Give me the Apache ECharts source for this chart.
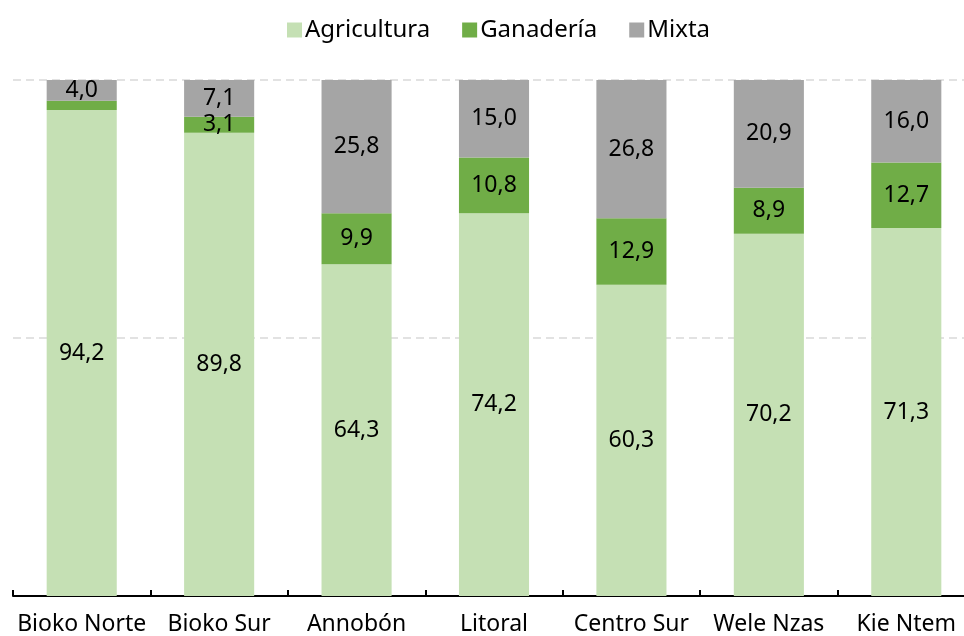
<!DOCTYPE html>
<html>
<head>
<meta charset="utf-8">
<script src="https://cdn.jsdelivr.net/npm/echarts@6/dist/echarts.min.js"></script>
<style>
  html, body { margin: 0; padding: 0; background: #fff; }
  #chart { width: 964px; height: 636px; }
</style>
</head>
<body>
<div id="chart"></div>
<script>
// Distribución por región (%)
const regiones = ['Bioko Norte', 'Bioko Sur', 'Annobón', 'Litoral', 'Centro Sur', 'Wele Nzas', 'Kie Ntem'];
const agricultura = [94.2, 89.8, 64.3, 74.2, 60.3, 70.2, 71.3];
const ganaderia = [1.8, 3.1, 9.9, 10.8, 12.9, 8.9, 12.7];
const mixta = [4.0, 7.1, 25.8, 15.0, 26.8, 20.9, 16.0];

// Segments too thin to hold a label stay unlabelled
const MIN_LABEL = 2.5;

const FONT = '"Noto Sans", "Open Sans", sans-serif';
const fmt = v => v.toFixed(1).replace('.', ',');

function serie(name, values, color) {
  return {
    name: name,
    type: 'bar',
    stack: 'total',
    barWidth: '51%',
    itemStyle: { color: color },
    label: {
      show: true,
      position: 'inside',
      color: '#000',
      fontFamily: FONT,
      fontSize: 23,
      formatter: p => fmt(p.value)
    },
    data: values.map(v => v < MIN_LABEL ? { value: v, label: { show: false } } : v)
  };
}

const chart = echarts.init(document.getElementById('chart'));
chart.setOption({
  animation: false,
  legend: {
    top: 18,
    left: 287,
    itemWidth: 15,
    itemHeight: 15,
    itemGap: 32,
    icon: 'rect',
    padding: 0,
    textStyle: { fontFamily: FONT, fontSize: 24, color: '#000', padding: [0, 0, 0, -2] },
    data: ['Agricultura', 'Ganadería', 'Mixta']
  },
  grid: { left: 13, right: -11, top: 80, bottom: 40, outerBoundsMode: 'none' },
  xAxis: {
    type: 'category',
    data: regiones,
    axisLine: { lineStyle: { color: '#000', width: 2 } },
    axisTick: { show: true, inside: true, length: 6, lineStyle: { color: '#000', width: 2 } },
    axisLabel: { fontFamily: FONT, fontSize: 23, color: '#000', margin: 17, interval: 0 }
  },
  yAxis: {
    type: 'value',
    min: 0,
    max: 100,
    interval: 50,
    axisLine: { show: false },
    axisTick: { show: false },
    axisLabel: { show: false },
    splitLine: { lineStyle: { color: '#d9d9d9', type: [8, 5], width: 1.5 } }
  },
  series: [
    serie('Agricultura', agricultura, '#c5e0b4'),
    serie('Ganadería', ganaderia, '#70ad47'),
    serie('Mixta', mixta, '#a5a5a5')
  ]
});
</script>
</body>
</html>
